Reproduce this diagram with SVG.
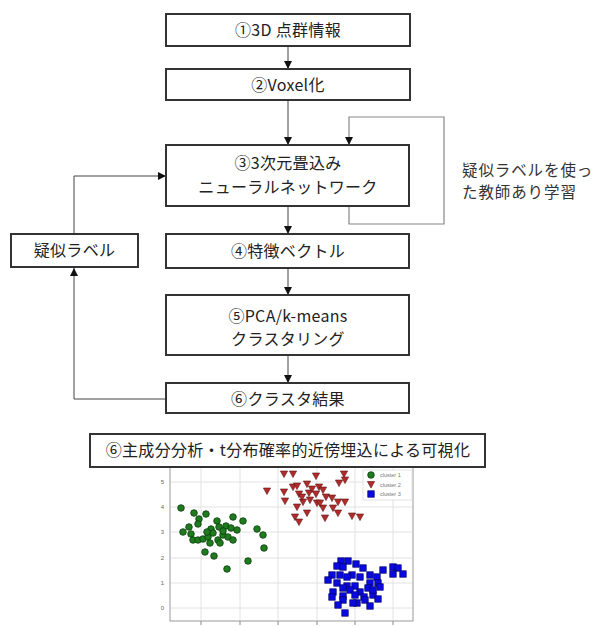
<svg xmlns="http://www.w3.org/2000/svg" xmlns:xlink="http://www.w3.org/1999/xlink" width="596" height="627" viewBox="0 0 596 627">
<style>
.box{fill:#fff;stroke:#333;stroke-width:2}
.t{font-family:"Noto Sans CJK JP","Noto Sans",sans-serif;font-size:16px;letter-spacing:0.3px;fill:#222;text-anchor:middle}
.lbl{font-family:"Noto Sans CJK JP","Noto Sans",sans-serif;font-size:15.5px;letter-spacing:0.9px;fill:#333}
.c{fill:none;stroke:#444;stroke-width:1}
.cl{fill:none;stroke:#888;stroke-width:1.2}
.grid{stroke:#e2e2e2;stroke-width:1}
.tick{font-family:"Liberation Sans",sans-serif;font-size:6px;fill:#666;text-anchor:end}
.leg{font-family:"Liberation Sans",sans-serif;font-size:5.5px;fill:#777}
.g{fill:#1e7b1e;stroke:#0d3d0d;stroke-width:0.8}
.r{fill:#b22b2b;stroke:#5a1010;stroke-width:0.6}
.b{fill:#0a0ae0;stroke:#00006a;stroke-width:0.7}
</style>
<defs>
<marker id="ah" viewBox="0 0 10 10" refX="10" refY="5" markerWidth="8" markerHeight="8" markerUnits="userSpaceOnUse" orient="auto">
<path d="M0,0 L10,5 L0,10 Z" fill="#111"/>
</marker>
<circle id="mg" class="g" r="3.3"/>
<path id="mr" class="r" d="M-3.6,-3 L3.6,-3 L0,3.6 Z"/>
<rect id="mb" class="b" x="-3.2" y="-3.2" width="6.4" height="6.4"/>
</defs>

<g id="connectors">
<line class="c" x1="288" y1="46" x2="288" y2="69" marker-end="url(#ah)"/>
<line class="c" x1="288" y1="100" x2="288" y2="145" marker-end="url(#ah)"/>
<line class="c" x1="288" y1="206" x2="288" y2="234" marker-end="url(#ah)"/>
<line class="c" x1="288" y1="268" x2="288" y2="295" marker-end="url(#ah)"/>
<line class="c" x1="288" y1="355" x2="288" y2="383" marker-end="url(#ah)"/>
<polyline class="cl" points="349,206 349,224 444,224 444,117 349,117 349,145" marker-end="url(#ah)"/>
<polyline class="c" points="166,399 74,399 74,268" marker-end="url(#ah)"/>
<polyline class="c" points="74,234 74,176 166,176" marker-end="url(#ah)"/>
</g>

<g id="n1"><rect class="box" x="166" y="14" width="244" height="32"/><text class="t" x="288" y="35.5">①3D 点群情報</text></g>
<g id="n2"><rect class="box" x="166" y="69" width="244" height="31"/><text class="t" x="288" y="90.5">②Voxel化</text></g>
<g id="n3"><rect class="box" x="166" y="145" width="243" height="61"/><text class="t" x="288" y="168.5">③3次元畳込み</text><text class="t" x="288" y="192.5">ニューラルネットワーク</text></g>
<g id="n4"><rect class="box" x="166" y="234" width="243" height="34"/><text class="t" x="288" y="256.5">④特徴ベクトル</text></g>
<g id="n5"><rect class="box" x="166" y="295" width="243" height="60"/><text class="t" x="288" y="321.5">⑤PCA/k-means</text><text class="t" x="288" y="344.5">クラスタリング</text></g>
<g id="n6"><rect class="box" x="166" y="383" width="243" height="30"/><text class="t" x="288" y="404.5">⑥クラスタ結果</text></g>
<g id="n7"><rect class="box" x="11" y="234" width="127" height="33"/><text class="t" x="74.5" y="256">疑似ラベル</text></g>
<g id="lbl"><text class="lbl" x="462" y="176">疑似ラベルを使っ</text><text class="lbl" x="462" y="198">た教師あり学習</text></g>

<g id="plot">
<rect x="170" y="466" width="243" height="155" fill="#fff" stroke="#999" stroke-width="1"/>
<g class="grid">
<line x1="201" y1="467" x2="201" y2="620"/><line x1="240" y1="467" x2="240" y2="620"/><line x1="278" y1="467" x2="278" y2="620"/><line x1="317" y1="467" x2="317" y2="620"/><line x1="355" y1="467" x2="355" y2="620"/><line x1="393" y1="467" x2="393" y2="620"/>
<line x1="171" y1="482" x2="412" y2="482"/><line x1="171" y1="507" x2="412" y2="507"/><line x1="171" y1="532" x2="412" y2="532"/><line x1="171" y1="558" x2="412" y2="558"/><line x1="171" y1="583" x2="412" y2="583"/><line x1="171" y1="608" x2="412" y2="608"/>
</g>
<g stroke="#888" stroke-width="1">
<line x1="201" y1="621" x2="201" y2="625"/><line x1="240" y1="621" x2="240" y2="625"/><line x1="278" y1="621" x2="278" y2="625"/><line x1="317" y1="621" x2="317" y2="625"/><line x1="355" y1="621" x2="355" y2="625"/><line x1="393" y1="621" x2="393" y2="625"/>
</g>
<text class="tick" x="164" y="484">5</text><text class="tick" x="164" y="509">4</text><text class="tick" x="164" y="534">3</text><text class="tick" x="164" y="560">2</text><text class="tick" x="164" y="585">1</text><text class="tick" x="164" y="610">0</text>
<g id="green">
<use xlink:href="#mg" x="181" y="508"/><use xlink:href="#mg" x="194" y="513"/><use xlink:href="#mg" x="206" y="514"/><use xlink:href="#mg" x="199" y="519"/><use xlink:href="#mg" x="189" y="527"/><use xlink:href="#mg" x="183" y="532"/><use xlink:href="#mg" x="198" y="524"/><use xlink:href="#mg" x="217" y="521"/><use xlink:href="#mg" x="233" y="517"/><use xlink:href="#mg" x="243" y="521"/><use xlink:href="#mg" x="211" y="529"/><use xlink:href="#mg" x="219" y="527"/><use xlink:href="#mg" x="226" y="526"/><use xlink:href="#mg" x="231" y="528"/><use xlink:href="#mg" x="237" y="530"/><use xlink:href="#mg" x="257" y="529"/><use xlink:href="#mg" x="263" y="535"/><use xlink:href="#mg" x="191" y="534"/><use xlink:href="#mg" x="193" y="540"/><use xlink:href="#mg" x="198" y="540"/><use xlink:href="#mg" x="203" y="539"/><use xlink:href="#mg" x="208" y="537"/><use xlink:href="#mg" x="213" y="533"/><use xlink:href="#mg" x="218" y="540"/><use xlink:href="#mg" x="223" y="535"/><use xlink:href="#mg" x="228" y="537"/><use xlink:href="#mg" x="233" y="540"/><use xlink:href="#mg" x="220" y="543"/><use xlink:href="#mg" x="205" y="552"/><use xlink:href="#mg" x="214" y="556"/><use xlink:href="#mg" x="264" y="548"/><use xlink:href="#mg" x="248" y="561"/><use xlink:href="#mg" x="227" y="569"/><use xlink:href="#mg" x="210" y="543"/><use xlink:href="#mg" x="223" y="531"/><use xlink:href="#mg" x="207" y="532"/>
</g>
<g id="red">
<use xlink:href="#mr" x="284" y="474"/><use xlink:href="#mr" x="293" y="474"/><use xlink:href="#mr" x="316" y="476"/><use xlink:href="#mr" x="344" y="474"/><use xlink:href="#mr" x="345" y="480"/><use xlink:href="#mr" x="339" y="483"/><use xlink:href="#mr" x="267" y="491"/><use xlink:href="#mr" x="284" y="492"/><use xlink:href="#mr" x="293" y="487"/><use xlink:href="#mr" x="297" y="486"/><use xlink:href="#mr" x="307" y="484"/><use xlink:href="#mr" x="319" y="487"/><use xlink:href="#mr" x="323" y="490"/><use xlink:href="#mr" x="299" y="494"/><use xlink:href="#mr" x="309" y="493"/><use xlink:href="#mr" x="316" y="494"/><use xlink:href="#mr" x="326" y="497"/><use xlink:href="#mr" x="332" y="498"/><use xlink:href="#mr" x="338" y="502"/><use xlink:href="#mr" x="345" y="502"/><use xlink:href="#mr" x="285" y="501"/><use xlink:href="#mr" x="303" y="502"/><use xlink:href="#mr" x="310" y="500"/><use xlink:href="#mr" x="317" y="503"/><use xlink:href="#mr" x="323" y="508"/><use xlink:href="#mr" x="333" y="508"/><use xlink:href="#mr" x="307" y="513"/><use xlink:href="#mr" x="295" y="517"/><use xlink:href="#mr" x="299" y="522"/><use xlink:href="#mr" x="325" y="518"/><use xlink:href="#mr" x="338" y="513"/><use xlink:href="#mr" x="352" y="516"/><use xlink:href="#mr" x="360" y="517"/><use xlink:href="#mr" x="297" y="507"/><use xlink:href="#mr" x="320" y="503"/><use xlink:href="#mr" x="302" y="497"/><use xlink:href="#mr" x="312" y="489"/>
</g>
<g id="blue">
<use xlink:href="#mb" x="341" y="561"/><use xlink:href="#mb" x="348" y="561"/><use xlink:href="#mb" x="356" y="564"/><use xlink:href="#mb" x="337" y="566"/><use xlink:href="#mb" x="343" y="567"/><use xlink:href="#mb" x="363" y="568"/><use xlink:href="#mb" x="332" y="575"/><use xlink:href="#mb" x="340" y="575"/><use xlink:href="#mb" x="352" y="575"/><use xlink:href="#mb" x="360" y="577"/><use xlink:href="#mb" x="370" y="575"/><use xlink:href="#mb" x="377" y="577"/><use xlink:href="#mb" x="328" y="580"/><use xlink:href="#mb" x="337" y="583"/><use xlink:href="#mb" x="347" y="586"/><use xlink:href="#mb" x="355" y="586"/><use xlink:href="#mb" x="370" y="583"/><use xlink:href="#mb" x="378" y="583"/><use xlink:href="#mb" x="333" y="592"/><use xlink:href="#mb" x="343" y="588"/><use xlink:href="#mb" x="350" y="590"/><use xlink:href="#mb" x="360" y="592"/><use xlink:href="#mb" x="368" y="588"/><use xlink:href="#mb" x="332" y="597"/><use xlink:href="#mb" x="343" y="596"/><use xlink:href="#mb" x="355" y="595"/><use xlink:href="#mb" x="364" y="597"/><use xlink:href="#mb" x="373" y="595"/><use xlink:href="#mb" x="343" y="600"/><use xlink:href="#mb" x="357" y="603"/><use xlink:href="#mb" x="365" y="600"/><use xlink:href="#mb" x="378" y="599"/><use xlink:href="#mb" x="338" y="605"/><use xlink:href="#mb" x="353" y="603"/><use xlink:href="#mb" x="370" y="606"/><use xlink:href="#mb" x="345" y="613"/><use xlink:href="#mb" x="393" y="567"/><use xlink:href="#mb" x="398" y="568"/><use xlink:href="#mb" x="393" y="574"/><use xlink:href="#mb" x="403" y="574"/><use xlink:href="#mb" x="383" y="570"/><use xlink:href="#mb" x="347" y="577"/><use xlink:href="#mb" x="373" y="590"/><use xlink:href="#mb" x="380" y="587"/>
</g>
<g id="legend">
<rect x="363" y="470" width="49" height="30" fill="#fff" fill-opacity="0.85" stroke="#ddd" stroke-width="0.8"/>
<use xlink:href="#mg" x="371" y="475"/><use xlink:href="#mr" x="371" y="484.5"/><use xlink:href="#mb" x="371" y="494"/>
<text class="leg" x="380" y="477">cluster 1</text><text class="leg" x="380" y="486.5">cluster 2</text><text class="leg" x="380" y="496">cluster 3</text>
</g>
</g>

<g id="n8"><rect class="box" x="90" y="434" width="395" height="33"/><text class="t" x="288" y="456">⑥主成分分析・t分布確率的近傍埋込による可視化</text></g>
</svg>
